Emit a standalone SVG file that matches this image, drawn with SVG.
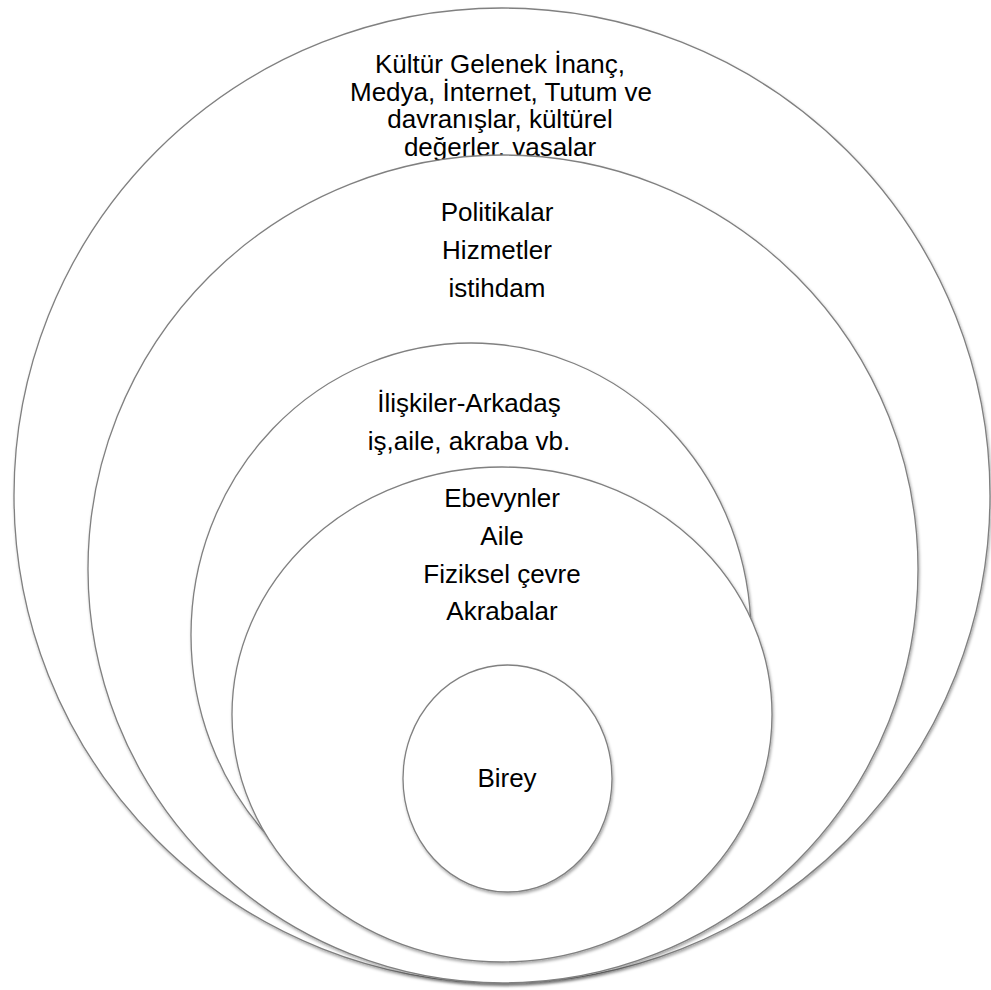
<svg xmlns="http://www.w3.org/2000/svg" width="991" height="990" viewBox="0 0 991 990">
<defs>
<filter id="sh" x="-5%" y="-5%" width="110%" height="110%">
<feDropShadow dx="1" dy="2" stdDeviation="1.5" flood-color="#000" flood-opacity="0.35"/>
</filter>
</defs>
<style>
.ring{fill:#fff;stroke:#808080;stroke-width:1.3;filter:url(#sh)}
.t{font-family:"Liberation Sans",Arial,sans-serif;font-size:26px;fill:#000;text-anchor:middle}
</style>
<rect width="991" height="990" fill="#fff"/>
<g id="connectors"/>
<g id="kultur">
<ellipse class="ring" cx="502" cy="495.5" rx="488" ry="487.5"/>
<text class="t" x="500" y="73">Kültür Gelenek İnanç,</text>
<text class="t" x="501" y="100.5">Medya, İnternet, Tutum ve</text>
<text class="t" x="500" y="128">davranışlar, kültürel</text>
<text class="t" x="500" y="155.5">değerler, vasalar</text>
</g>
<g id="politikalar">
<ellipse class="ring" cx="503" cy="569" rx="415" ry="414"/>
<text class="t" x="497" y="221">Politikalar</text>
<text class="t" x="497" y="259">Hizmetler</text>
<text class="t" x="497" y="297">istihdam</text>
</g>
<g id="iliskiler">
<ellipse class="ring" cx="471" cy="635" rx="280" ry="292"/>
<text class="t" x="469" y="412">İlişkiler-Arkadaş</text>
<text class="t" x="469" y="450">iş,aile, akraba vb.</text>
</g>
<g id="ebeveynler">
<ellipse class="ring" cx="502" cy="714.5" rx="270" ry="247.5"/>
<text class="t" x="502" y="507">Ebevynler</text>
<text class="t" x="502" y="545">Aile</text>
<text class="t" x="502" y="583">Fiziksel çevre</text>
<text class="t" x="502" y="620">Akrabalar</text>
</g>
<g id="birey">
<ellipse class="ring" cx="507.5" cy="778.5" rx="104.5" ry="113.5"/>
<text class="t" x="507" y="787">Birey</text>
</g>
</svg>
